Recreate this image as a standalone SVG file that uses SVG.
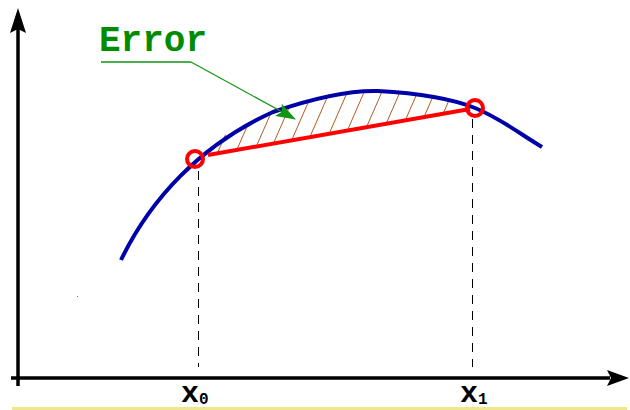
<svg xmlns="http://www.w3.org/2000/svg" width="630" height="410" viewBox="0 0 630 410">
<style>
.axis{stroke:#000;stroke-width:3.5;fill:none}
.head{fill:#000}
.curve{stroke:#0000a8;stroke-width:4;fill:none;stroke-linecap:butt}
.chord{stroke:#ff0000;stroke-width:4;fill:none}
.pt{stroke:#ff0000;stroke-width:4;fill:none}
.dash{stroke:#000;stroke-width:1;stroke-dasharray:9,7;fill:none}
.hatch{stroke:#b35a1f;stroke-width:1;fill:none}
.lbl{font-family:"Liberation Mono","Courier New",monospace;font-weight:bold}
</style>
<defs>
<clipPath id="region">
<path d="M195,159 C200,150 230,128 273,112 C305,101 345,90 378,91 C415,93 450,98 475,108 L195,159 Z"/>
</clipPath>
<marker id="garrow" markerWidth="20" markerHeight="14" viewBox="0 0 20 14" refX="19" refY="7" orient="auto" markerUnits="userSpaceOnUse">
<path d="M0,0 L20,7 L0,14 L4,7 Z" fill="#129512"/>
</marker>
</defs>
<rect width="630" height="410" fill="#fff"/>
<rect x="12" y="407" width="615" height="3" fill="#f0e68c"/>
<g id="axes">
<line class="axis" x1="18" y1="386" x2="18" y2="28"/>
<path class="head" d="M18,8 L26,33 L18,29 L10,33 Z"/>
<line class="axis" x1="11" y1="378" x2="610" y2="378"/>
<path class="head" d="M629,378 L607,370 L611,378 L607,386 Z"/>
</g>
<g id="hatching" clip-path="url(#region)">
<g class="hatch">
<line x1="210" y1="170" x2="238" y2="106"/>
<line x1="228" y1="170" x2="256" y2="106"/>
<line x1="246" y1="170" x2="274" y2="106"/>
<line x1="264" y1="165" x2="292" y2="101"/>
<line x1="283" y1="160" x2="311" y2="96"/>
<line x1="302" y1="155" x2="330" y2="91"/>
<line x1="322" y1="150" x2="350" y2="86"/>
<line x1="341" y1="145" x2="369" y2="81"/>
<line x1="360" y1="142" x2="388" y2="78"/>
<line x1="379" y1="140" x2="407" y2="76"/>
<line x1="398" y1="137" x2="426" y2="73"/>
<line x1="417" y1="133" x2="445" y2="69"/>
<line x1="436" y1="130" x2="464" y2="66"/>
</g>
</g>
<g id="dashes">
<line class="dash" x1="198.5" y1="171" x2="198.5" y2="367"/>
<line class="dash" x1="472.5" y1="119" x2="472.5" y2="367"/>
</g>
<g id="curve">
<path class="curve" d="M121,260 C150,200 200,145 273,112 C305,101 345,90 378,91 C415,93 450,98 475,108 C500,118 520,134 542,147"/>
</g>
<g id="chord">
<line class="chord" x1="208" y1="155" x2="470" y2="109"/>
</g>
<g id="point-x0"><circle class="pt" cx="195" cy="159" r="8"/></g>
<g id="point-x1"><circle class="pt" cx="475" cy="108" r="8"/></g>
<g id="error-label">
<text class="lbl" x="99" y="51" font-size="36" fill="#008c00">Error</text>
</g>
<g id="connectors">
<line x1="101" y1="62" x2="191" y2="62" stroke="#4caf4c" stroke-width="2"/>
<line x1="191" y1="62" x2="295" y2="119" stroke="#129512" stroke-width="1.2" marker-end="url(#garrow)"/>
</g>
<g id="label-x0">
<text class="lbl" x="181" y="402" font-size="30" fill="#000">x<tspan font-size="16" dy="2">0</tspan></text>
</g>
<g id="label-x1">
<text class="lbl" x="460" y="402" font-size="30" fill="#000">x<tspan font-size="16" dy="2">1</tspan></text>
</g>
<rect x="77" y="296" width="1" height="1" fill="#2a2"/>
</svg>
